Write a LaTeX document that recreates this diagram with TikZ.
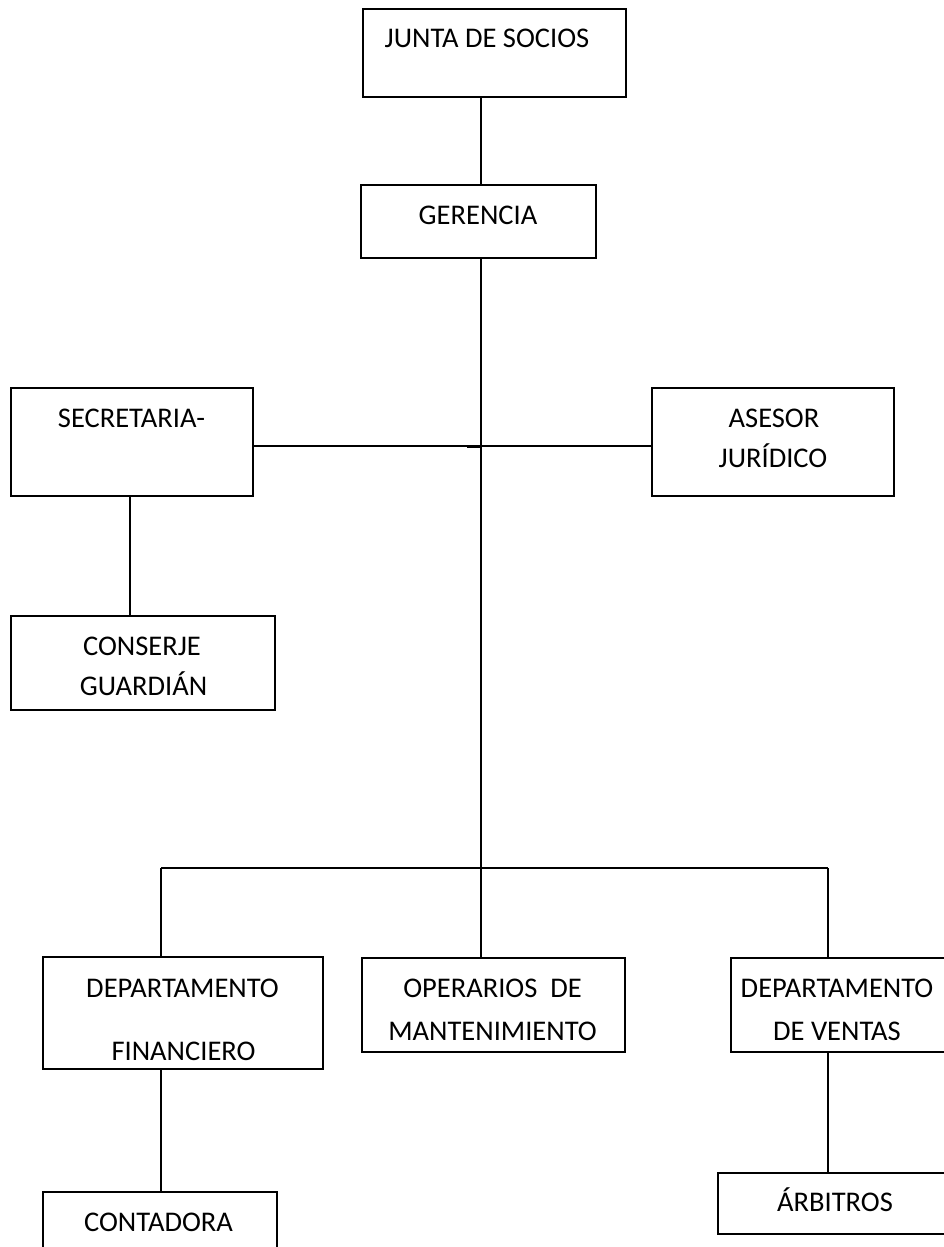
\documentclass[tikz,border=0pt]{standalone}
\usepackage{fontspec}
\setmainfont{Carlito}
\begin{document}
\begin{tikzpicture}[x=1pt,y=-1pt,
  box/.style={draw=black, line width=1.6pt, inner sep=0pt, outer sep=0pt, rectangle},
  txt/.style={anchor=base, inner sep=0pt, font=\fontsize{28.5}{34}\selectfont},
  conn/.style={draw=black, line width=1.6pt}]
\useasboundingbox (0,0) rectangle (944,1247);
% boxes
\node[box, minimum width=263pt, minimum height=88pt] (jun) at (494.5,53) {};
\node[box, minimum width=235pt, minimum height=73pt] (ger) at (478.5,221.5) {};
\node[box, minimum width=242pt, minimum height=108pt] (sec) at (132,442) {};
\node[box, minimum width=242pt, minimum height=108pt] (ase) at (773,442) {};
\node[box, minimum width=264pt, minimum height=94pt] (con) at (143,663) {};
\node[box, minimum width=280pt, minimum height=112pt] (fin) at (183,1013) {};
\node[box, minimum width=263pt, minimum height=94pt] (ope) at (493.5,1005) {};
\node[box, minimum width=219pt, minimum height=94pt] (ven) at (840.5,1005) {};
\node[box, minimum width=234pt, minimum height=68pt] (cnt) at (160,1226) {};
\node[box, minimum width=232pt, minimum height=61pt] (arb) at (834,1203.5) {};
% texts
\node[txt] (tjun) at (487,48) {JUNTA DE SOCIOS};
\node[txt] (tger) at (478,224) {GERENCIA};
\node[txt] (tsec) at (131.5,427) {SECRETARIA-};
\node[txt] (tase1) at (774,427) {ASESOR};
\node[txt] (tase2) at (773,467) {JURÍDICO};
\node[txt] (tcon1) at (142,655) {CONSERJE};
\node[txt] (tcon2) at (143.5,695) {GUARDIÁN};
\node[txt] (tfin1) at (182.5,997) {DEPARTAMENTO};
\node[txt] (tfin2) at (183.5,1060) {FINANCIERO};
\node[txt] (tope1) at (492.5,997) {OPERARIOS\ \ DE};
\node[txt] (tope2) at (492.5,1040) {MANTENIMIENTO};
\node[txt] (tven1) at (837,997) {DEPARTAMENTO};
\node[txt] (tven2) at (837,1040) {DE VENTAS};
\node[txt] (tcnt) at (158.5,1231) {CONTADORA};
\node[txt] (tarb) at (835,1211) {ÁRBITROS};
% coordinates
\coordinate (c1) at (481,446);
\coordinate (c2) at (481,868);
\coordinate (c3) at (130,446);
\coordinate (bl) at (161,868);
\coordinate (br) at (828,868);
\coordinate (stub) at (467,447);
% connectors
\draw[conn] (c1 |- jun.south) -- (c1 |- ger.north);
\draw[conn] (c1 |- ger.south) -- (c2);
\draw[conn] (sec.east |- c1) -- (ase.west |- c1);
\draw[conn] (stub) -- (stub -| c1);
\draw[conn] (c3 |- sec.south) -- (c3 |- con.north);
\draw[conn] (bl) -- (br);
\draw[conn] (bl) -- (bl |- fin.north);
\draw[conn] (c2) -- (c2 |- ope.north);
\draw[conn] (br) -- (br |- ven.north);
\draw[conn] (bl |- fin.south) -- (bl |- cnt.north);
\draw[conn] (br |- ven.south) -- (br |- arb.north);
\end{tikzpicture}
\end{document}
